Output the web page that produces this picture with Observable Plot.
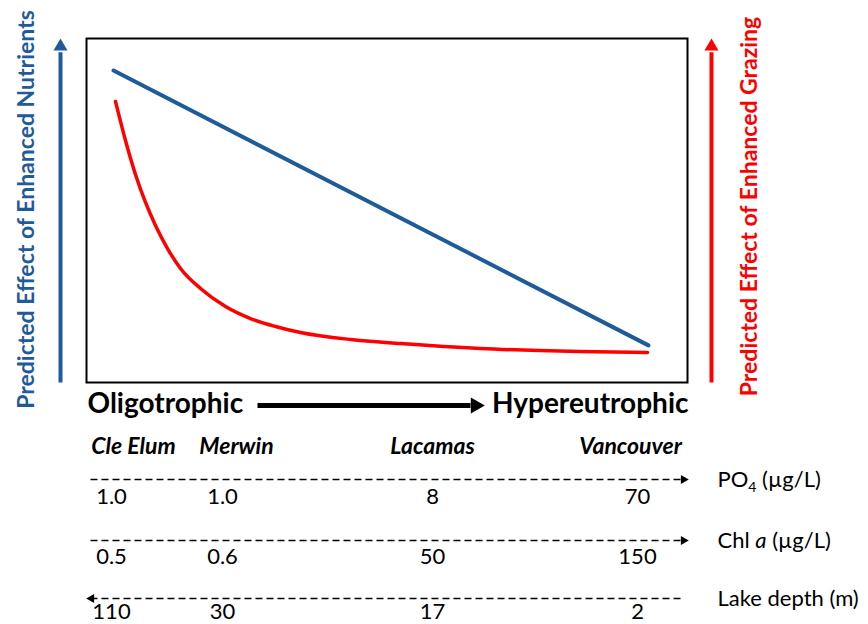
<!DOCTYPE html>
<html>
<head>
<meta charset="utf-8">
<script src="https://cdn.jsdelivr.net/npm/d3@7"></script>
<script src="https://cdn.jsdelivr.net/npm/@observablehq/plot@0.6"></script>
<style>
  html, body { margin: 0; padding: 0; background: #fff; }
  #chart { width: 868px; height: 624px; }
</style>
</head>
<body>
<div id="chart"></div>
<script>
// ---------------- DATA ----------------
// Trophic gradient position (0–100) and predicted effect (0–100)
const nutrientX = [4.5, 93.5];
const nutrientY = [90.7, 10.8];

const grazingX = [4.83, 6.49, 8.15, 9.82, 11.48, 13.48, 15.64, 18.97, 23.13, 27.29, 31.45, 35.61, 43.93, 52.25, 65.56, 82.20, 93.34];
const grazingY = [81.69, 70.35, 60.47, 52.33, 45.64, 38.95, 33.14, 27.33, 22.09, 18.60, 16.28, 14.53, 12.50, 11.34, 9.88, 9.01, 8.72];

const lakes = ["Cle Elum", "Merwin", "Lacamas", "Vancouver"];
const po4 = ["1.0", "1.0", "8", "70"];
const chl = ["0.5", "0.6", "50", "150"];
const depth = ["110", "30", "17", "2"];
const rowLabels = ["PO4 (µg/L)", "Chl a (µg/L)", "Lake depth (m)"];
const gradientLabels = ["Oligotrophic", "Hypereutrophic"];
const axisLabels = ["Predicted Effect of Enhanced Nutrients", "Predicted Effect of Enhanced Grazing"];

// ---------------- LAYOUT ----------------
const W = 868, H = 624;
const boxL = 86, boxR = 687, boxT = 38, boxB = 382;
const X = px => (px - boxL) / (boxR - boxL) * 100;
const Y = py => (boxB - py) / (boxB - boxT) * 100;

const nameCols = [133, 236, 432, 630].map(X);
const valueCols = [111, 222, 432, 637].map(X);
const rowLineY = [479, 540, 598].map(Y);
const rowValY = [496, 556, 611].map(Y);

const BLUE = "#1f5b99";
const RED = "#ff0000";
const FONT = "Lato, 'Open Sans', sans-serif";

const nutrient = nutrientX.map((x, i) => ({x, y: nutrientY[i]}));
const grazing = grazingX.map((x, i) => ({x, y: grazingY[i]}));
const names = lakes.map((n, i) => ({x: nameCols[i], y: Y(446), text: n}));
const values = [po4, chl, depth].flatMap((arr, r) => arr.map((v, i) => ({x: valueCols[i], y: rowValY[r], text: v})));
const rows = rowLabels.map((t, r) => ({y: rowLineY[r], text: t}));
// arrow direction per row: forward for PO4 and Chl a, backward for depth
const rowDir = [1, 1, -1];
const heads = rows.map((r, i) => rowDir[i] > 0
  ? {y: r.y, x: X(683), rot: 90}
  : {y: r.y, x: X(91), rot: -90});

const plot = Plot.plot({
  width: W, height: H,
  marginLeft: boxL, marginRight: W - boxR, marginTop: boxT, marginBottom: H - boxB,
  x: {domain: [0, 100], axis: null},
  y: {domain: [0, 100], axis: null},
  style: {fontFamily: FONT, background: "white"},
  marks: [
    Plot.frame({stroke: "black", strokeWidth: 2}),
    Plot.line(nutrient, {x: "x", y: "y", stroke: BLUE, strokeWidth: 4}),
    Plot.line(grazing, {x: "x", y: "y", stroke: RED, strokeWidth: 3.5, curve: "monotone-x"}),
    // side arrows
    Plot.link([{x: X(60)}], {x1: "x", x2: "x", y1: 0, y2: 96, stroke: BLUE, strokeWidth: 4}),
    Plot.dot([{x: X(60)}], {x: "x", y: 100, symbol: "triangle", r: 5.2, fill: BLUE, stroke: "none", dy: 8}),
    Plot.link([{x: X(711)}], {x1: "x", x2: "x", y1: 0, y2: 96, stroke: RED, strokeWidth: 4}),
    Plot.dot([{x: X(711)}], {x: "x", y: 100, symbol: "triangle", r: 5.2, fill: RED, stroke: "none", dy: 8}),
    Plot.text([axisLabels[0]], {x: X(26), y: Y(209), text: d => d, rotate: -90, fill: BLUE, fontWeight: "bold", fontSize: 23}),
    Plot.text([axisLabels[1]], {x: X(749), y: Y(206), text: d => d, rotate: -90, fill: RED, fontWeight: "bold", fontSize: 23}),
    // gradient arrow
    Plot.text([gradientLabels[0]], {x: X(87), y: Y(404), text: d => d, textAnchor: "start", fontWeight: "bold", fontSize: 28, fill: "black"}),
    Plot.text([gradientLabels[1]], {x: X(688), y: Y(404), text: d => d, textAnchor: "end", fontWeight: "bold", fontSize: 28, fill: "black"}),
    Plot.link([0], {x1: X(257), x2: X(470), y1: Y(405), y2: Y(405), stroke: "black", strokeWidth: 5}),
    Plot.dot([0], {x: X(484), y: Y(405), symbol: "triangle", r: 6, rotate: 90, fill: "black", stroke: "none", dx: -9}),
    // lakes
    Plot.text(names, {x: "x", y: "y", text: "text", fontWeight: "bold", fontStyle: "italic", fontSize: 23, fill: "black"}),
    // dashed rows
    Plot.link(rows, {x1: X(90), x2: X(682), y1: "y", y2: "y", stroke: "black", strokeWidth: 1.6, strokeDasharray: "7,4"}),
    Plot.dot(heads, {x: "x", y: "y", rotate: "rot", symbol: "triangle", r: 3.4, fill: "black", stroke: "none"}),
    Plot.text(rows, {x: X(717), y: "y", text: "text", textAnchor: "start", fontSize: 22, fill: "black"}),
    Plot.text(values, {x: "x", y: "y", text: "text", fontSize: 22, fill: "black"})
  ]
});

// rich text: subscript 4, italic a
d3.select(plot).selectAll("text").each(function() {
  const t = this.textContent;
  if (t === "PO4 (µg/L)") {
    const s = d3.select(this); s.text(null);
    s.append("tspan").text("PO");
    s.append("tspan").attr("font-size", 14).attr("dy", 5).text("4");
    s.append("tspan").attr("dy", -5).text(" (µg/L)");
  } else if (t === "Chl a (µg/L)") {
    const s = d3.select(this); s.text(null);
    s.append("tspan").text("Chl ");
    s.append("tspan").attr("font-style", "italic").text("a");
    s.append("tspan").text(" (µg/L)");
  }
});

document.getElementById("chart").appendChild(plot);
</script>
</body>
</html>
